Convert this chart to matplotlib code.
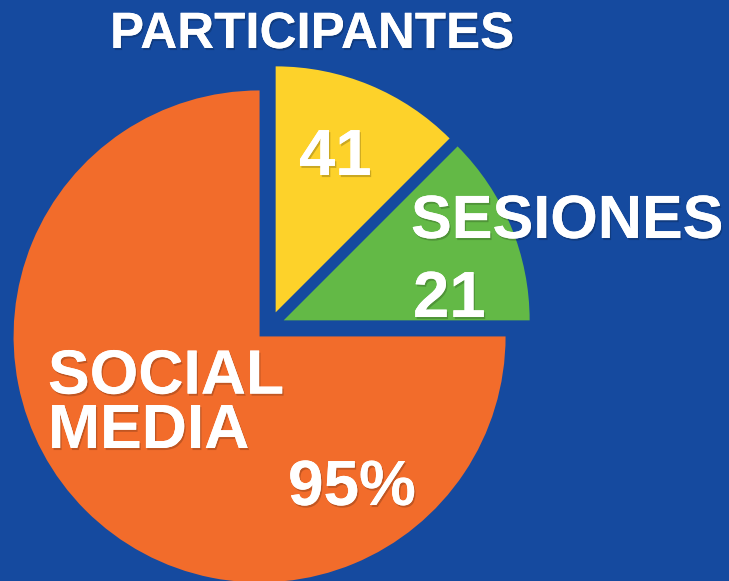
import matplotlib.pyplot as plt
import matplotlib.patheffects as pe

# data
labels = ['PARTICIPANTES', 'SESIONES', 'SOCIAL\nMEDIA']
values = ['41', '21', '95%']
shares = [12.5, 12.5, 75]
colors = ['#fdd22a', '#63b946', '#f26c2b']
bg = '#154a9f'

fig = plt.figure(figsize=(7.29, 5.81), dpi=100, facecolor=bg)
ax = fig.add_axes([0, 0, 1, 1])
ax.set_facecolor(bg)

ax.pie(shares, colors=colors, startangle=90, counterclock=False,
       explode=[0.06] * 3, radius=1, wedgeprops=dict(linewidth=0))

# pie centre sits at about (270, 326) px from the top left, radius 246 px
ax.set_xlim(-270 / 246, (729 - 270) / 246)
ax.set_ylim(-(581 - 326) / 246, 326 / 246)
ax.axis('off')

shadow = [pe.withSimplePatchShadow(offset=(1, -1.5), shadow_rgbFace='black', alpha=0.2),
          pe.Normal()]
font = dict(family=['Liberation Sans', 'DejaVu Sans'], weight='bold', color='white',
            ha='left', va='baseline', path_effects=shadow)

def put(txt, x, y, size, **kw):
    fig.text(x / 729, 1 - y / 581, txt, fontsize=size, **font, **kw)

put(labels[0], 110, 48, 36.8)
put(values[0], 299, 175, 47)
put(labels[1], 411, 238, 44)
put(values[1], 413, 317, 47)
# baseline of a two line text is the last line's
put(labels[2], 48, 448, 45, linespacing=0.9)
put(values[2], 288, 505, 46)

fig.savefig('out.png', dpi=100, facecolor=bg)
